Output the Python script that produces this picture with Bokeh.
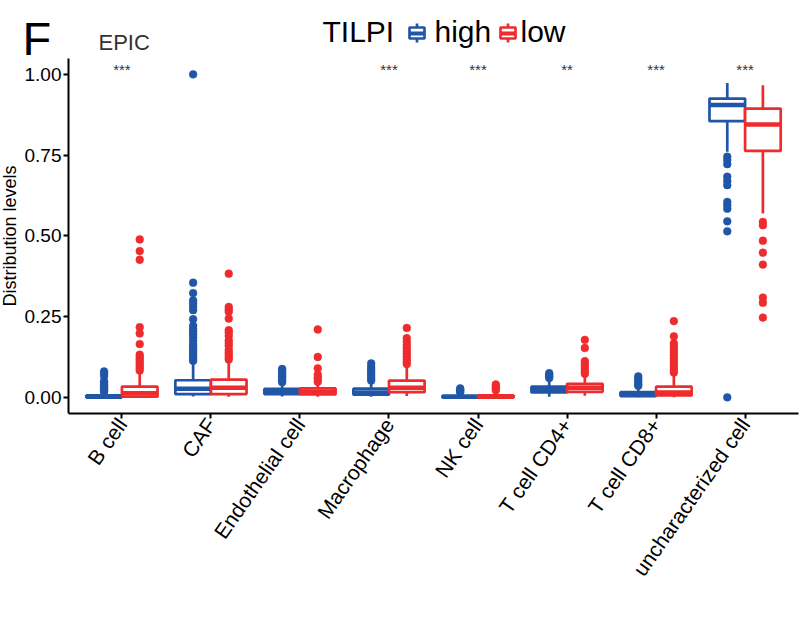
import math
from bokeh.plotting import figure
from bokeh.models import FixedTicker, ColumnDataSource
from bokeh.core.properties import value
from bokeh.embed import file_html
from bokeh.resources import INLINE

# ---------------- data ----------------
categories = ["B cell", "CAF", "Endothelial cell", "Macrophage", "NK cell",
              "T cell CD4+", "T cell CD8+", "uncharacterized cell"]
groups = ["high", "low"]
legend_title = "TILPI"
panel_letter = "F"
plot_title = "EPIC"
y_label = "Distribution levels"
y_ticks = [0.0, 0.25, 0.5, 0.75, 1.0]
y_tick_labels = ["0.00", "0.25", "0.50", "0.75", "1.00"]
signif = ["***", "", "", "***", "***", "**", "***", "***"]
signif_y = 1.015

# box stats per category: lower whisker, q1, median, q3, upper whisker
high_lw  = [0.000, 0.003, 0.003, 0.002, 0.000, 0.002, 0.000, 0.760]
high_q1  = [0.000, 0.010, 0.010, 0.008, 0.000, 0.015, 0.004, 0.855]
high_med = [0.002, 0.027, 0.018, 0.015, 0.002, 0.023, 0.009, 0.905]
high_q3  = [0.006, 0.053, 0.026, 0.027, 0.005, 0.033, 0.016, 0.925]
high_uw  = [0.014, 0.110, 0.042, 0.045, 0.012, 0.055, 0.032, 0.973]

low_lw  = [0.000, 0.002, 0.002, 0.004, 0.000, 0.005, 0.000, 0.569]
low_q1  = [0.002, 0.010, 0.009, 0.016, 0.000, 0.017, 0.006, 0.763]
low_med = [0.013, 0.030, 0.017, 0.030, 0.002, 0.030, 0.015, 0.845]
low_q3  = [0.033, 0.055, 0.028, 0.052, 0.006, 0.042, 0.033, 0.894]
low_uw  = [0.075, 0.115, 0.045, 0.100, 0.015, 0.068, 0.070, 0.966]

high_outliers = [
    [0.080, 0.073, 0.066, 0.050, 0.045, 0.040, 0.035, 0.030, 0.025, 0.020, 0.017],
    [1.000, 0.355, 0.323, 0.300, 0.290, 0.280, 0.270, 0.242, 0.222, 0.212, 0.205,
     0.195, 0.186, 0.176, 0.165, 0.158, 0.150, 0.142, 0.135, 0.128, 0.120, 0.113],
    [0.088, 0.083, 0.077, 0.071, 0.065, 0.059, 0.053, 0.047],
    [0.105, 0.095, 0.087, 0.080, 0.073, 0.066, 0.059, 0.052],
    [0.028, 0.024, 0.020, 0.016],
    [0.075, 0.070, 0.065, 0.060],
    [0.065, 0.058, 0.052, 0.046, 0.040, 0.036],
    [0.745, 0.735, 0.722, 0.683, 0.670, 0.657, 0.605, 0.595, 0.584, 0.545, 0.514, 0.000],
]
low_outliers = [
    [0.489, 0.453, 0.426, 0.217, 0.198, 0.165, 0.132, 0.125, 0.118, 0.111, 0.104,
     0.097, 0.090, 0.083],
    [0.383, 0.280, 0.272, 0.265, 0.244, 0.208, 0.200, 0.190, 0.176, 0.168, 0.160,
     0.148, 0.140, 0.132, 0.124, 0.117],
    [0.210, 0.125, 0.090, 0.070, 0.062, 0.055, 0.048],
    [0.215, 0.183, 0.172, 0.162, 0.152, 0.143, 0.135, 0.126, 0.118, 0.110, 0.103],
    [0.040, 0.034, 0.028, 0.022],
    [0.178, 0.153, 0.112, 0.104, 0.096, 0.088, 0.080, 0.073],
    [0.236, 0.189, 0.167, 0.157, 0.148, 0.139, 0.130, 0.121, 0.112, 0.103, 0.094,
     0.085, 0.077],
    [0.543, 0.533, 0.485, 0.448, 0.411, 0.309, 0.293, 0.247],
]

colors = {"high": "#2156A6", "low": "#EE2B2D"}
FONT = value("Liberation Sans")

# ---------------- layout constants ----------------
AX0, AX1 = 0.4, 8.6        # extent of the category axis
Y0, YAX = -0.05, 1.05      # extent of the value axis
PX_PER_X = 730 / (AX1 - AX0)
PX_PER_Y = 323.0
LEFT_PAD = 68              # px of frame left of the y axis (room for labels)
FW = LEFT_PAD + 730
FH = 413                   # frame height incl. head-room for title & legend
X0 = AX0 - LEFT_PAD / PX_PER_X
Y1 = Y0 + FH / PX_PER_Y
PAGE_LEFT, PAGE_BOTTOM = 0, 413   # page px of frame left / frame bottom


def px2x(px):
    return X0 + (px - PAGE_LEFT) / PX_PER_X


def px2y(py):
    return Y0 + (PAGE_BOTTOM - py) / PX_PER_Y


p = figure(frame_width=FW, frame_height=FH, x_range=(X0, AX1), y_range=(Y0, Y1),
           output_backend="svg", toolbar_location=None,
           min_border_left=0, min_border_right=5, min_border_top=0,
           min_border_bottom=215)
p.outline_line_color = None
p.xgrid.visible = False
p.ygrid.visible = False
p.background_fill_color = "white"
p.border_fill_color = "white"

dodge = 0.2
box_w = 0.4
stats = {
    "high": (high_lw, high_q1, high_med, high_q3, high_uw, high_outliers, -dodge),
    "low": (low_lw, low_q1, low_med, low_q3, low_uw, low_outliers, dodge),
}

LW = 2.7
for g in groups:
    lw, q1, med, q3, uw, outl, off = stats[g]
    c = colors[g]
    xs = [i + 1 + off for i in range(len(categories))]
    ox, oy = [], []
    for x, vals in zip(xs, outl):
        ox += [x] * len(vals)
        oy += vals
    p.scatter(ox, oy, size=7.8, marker="circle", fill_color=c, line_color=c,
              line_width=0.5)
    src = ColumnDataSource(dict(x=xs, lw=lw, q1=q1, med=med, q3=q3, uw=uw,
                                xl=[x - box_w / 2 for x in xs],
                                xr=[x + box_w / 2 for x in xs]))
    p.segment(x0="x", y0="lw", x1="x", y1="q1", source=src, line_color=c, line_width=LW)
    p.segment(x0="x", y0="q3", x1="x", y1="uw", source=src, line_color=c, line_width=LW)
    p.vbar(x="x", bottom="q1", top="q3", width=box_w, source=src,
           fill_color="white", line_color=c, line_width=LW)
    p.segment(x0="xl", y0="med", x1="xr", y1="med", source=src, line_color=c,
              line_width=4.5)

# significance marks
p.text(x=[i + 1 for i in range(len(categories))], y=[signif_y] * len(categories),
       text=signif, text_font=FONT, text_font_size="15px", text_color="#333333",
       text_align="center", text_baseline="alphabetic")

# axes
p.xaxis.ticker = FixedTicker(ticks=[i + 1 for i in range(len(categories))])
p.xaxis.major_label_overrides = {i + 1: c for i, c in enumerate(categories)}
p.xaxis.major_label_orientation = 55 * math.pi / 180
p.xaxis.bounds = (AX0, AX1)
p.yaxis.ticker = FixedTicker(ticks=y_ticks)
p.yaxis.major_label_overrides = {t: l for t, l in zip(y_ticks, y_tick_labels)}
p.yaxis.axis_label = y_label
p.yaxis.bounds = (Y0, YAX)
p.yaxis.fixed_location = AX0

for ax in (p.xaxis, p.yaxis):
    ax.axis_line_width = 2
    ax.axis_line_color = "black"
    ax.major_tick_line_width = 2
    ax.major_tick_line_color = "black"
    ax.major_tick_in = 0
    ax.major_tick_out = 5
    ax.minor_tick_line_color = None
    ax.major_label_text_font = "Liberation Sans"
    ax.major_label_text_color = "black"
    ax.major_label_standoff = 2
p.xaxis.major_label_text_font_size = "21px"
p.yaxis.major_label_text_font_size = "19px"
p.yaxis.axis_label_text_font = "Liberation Sans"
p.yaxis.axis_label_text_font_size = "18px"
p.yaxis.axis_label_text_font_style = "normal"
p.yaxis.axis_label_text_color = "black"
p.yaxis.axis_label_standoff = 2

# ---------------- panel letter, title, legend ----------------
def add_text(txt, page_x, page_base, size_px, color="black"):
    # alphabetic placement is rendered ~0.36em low, compensate
    yb = page_base - 0.36 * size_px
    p.text(x=[px2x(page_x)], y=[px2y(yb)], text=[txt], text_font=FONT,
           text_font_size=f"{size_px}px", text_color=color,
           text_baseline="alphabetic", text_align="left")


add_text(panel_letter, 22, 55, 47)
add_text(plot_title, 98, 49.5, 22, "#333333")
add_text(legend_title, 322, 42, 30)

icon_px = {"high": 416.5, "low": 507.5}
label_px = {"high": 434, "low": 520}
hw = 7.5 / PX_PER_X
for g in groups:
    c = colors[g]
    cx = px2x(icon_px[g])
    w_top, w_bot = px2y(23), px2y(42)
    b_top, b_bot = px2y(27), px2y(38)
    mid = px2y(33)
    p.segment(x0=[cx, cx], y0=[w_top, b_bot], x1=[cx, cx], y1=[b_top, w_bot],
              line_color=c, line_width=LW)
    p.quad(left=[cx - hw], right=[cx + hw], bottom=[b_bot], top=[b_top],
           fill_color="white", line_color=c, line_width=LW)
    p.segment(x0=[cx - hw], y0=[mid], x1=[cx + hw], y1=[mid], line_color=c,
              line_width=4)
    add_text(g, label_px[g], 42, 30)

open("out.html", "w").write(file_html(p, INLINE))
